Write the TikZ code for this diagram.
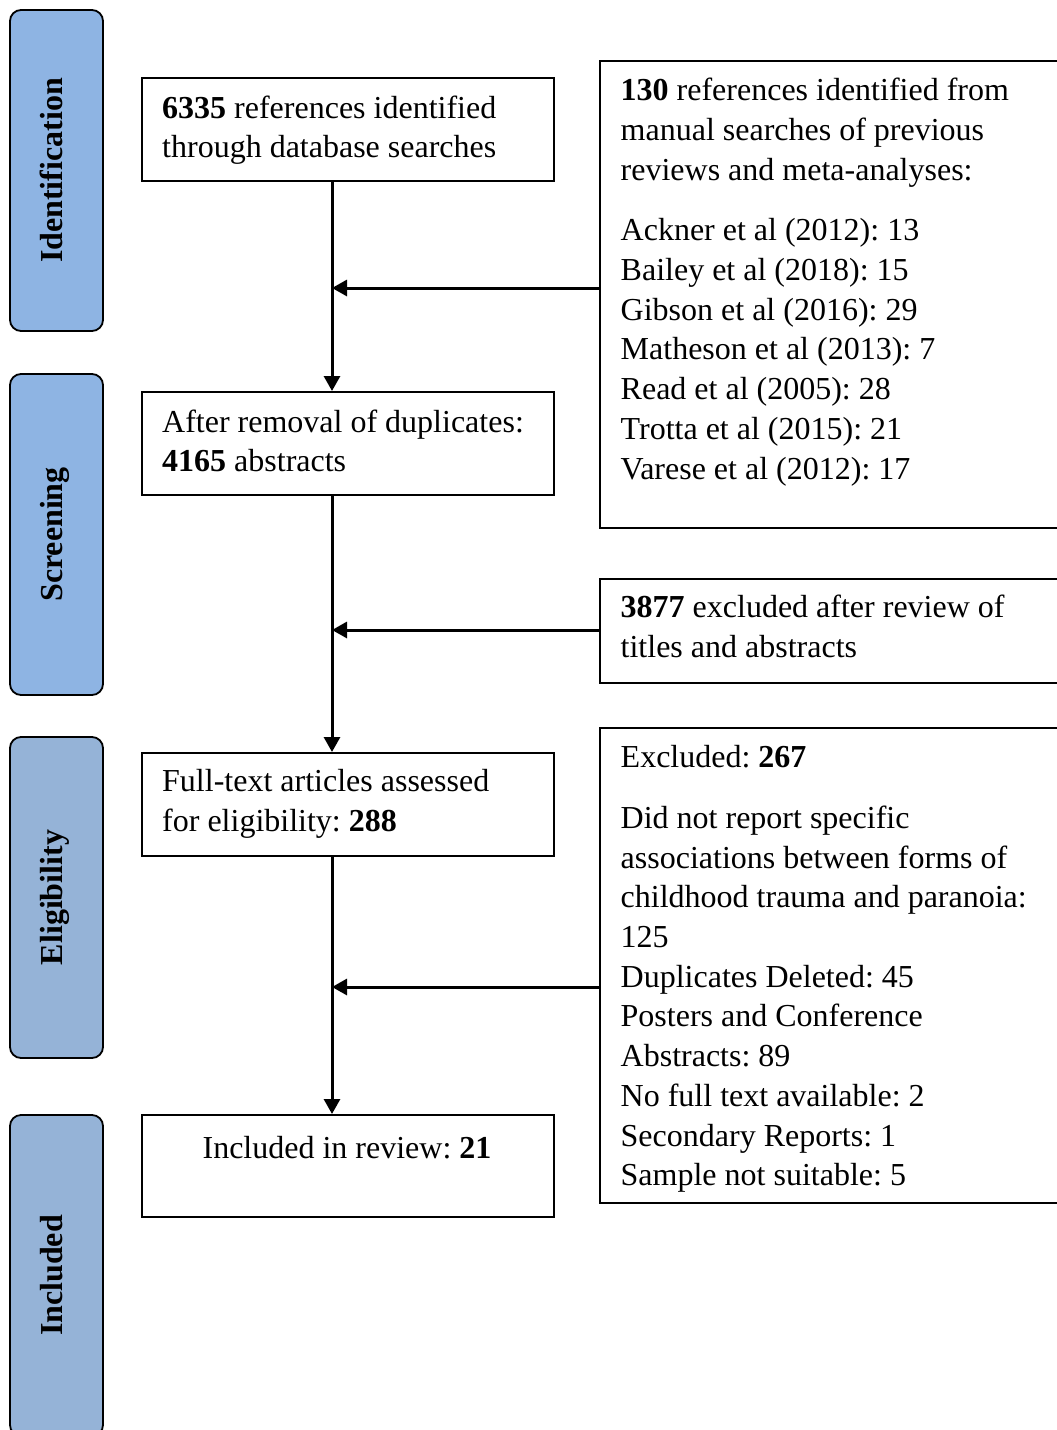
\documentclass[tikz,border=0pt]{standalone}
\usepackage{fontspec}
\setmainfont{Liberation Serif}
\usetikzlibrary{arrows.meta,calc}
\frenchspacing

\newcommand{\flowfont}{\fontsize{32}{39.7}\selectfont}
\definecolor{stageblue}{HTML}{8EB4E3}
\definecolor{stagegrey}{HTML}{95B3D7}

\tikzset{
	stage/.style={draw=black, line width=1.8pt, rounded corners=11pt, rotate=90,
		minimum width=321pt, minimum height=93pt, inner sep=0pt,
		font=\flowfont\bfseries, text height=21pt, text depth=9pt},
	flowbox/.style={draw=black, line width=1.8pt, anchor=north west, inner sep=0pt},
	flowtext/.style={anchor=north west, inner sep=0pt, align=left, font=\flowfont,
		execute at begin node={\rule{0pt}{25pt}}},
	flowline/.style={line width=3pt, -{Triangle[length=15pt,width=16pt]}}
}

\begin{document}
\begin{tikzpicture}[x=1pt,y=-1pt]
					\useasboundingbox (0,0) rectangle (1057,1430);
					%STAGES
					\node[stage, fill=stageblue] (ident) at (56.5,170.5) {Identification};
					\node[stage, fill=stageblue] (screen) at (56.5,534.5) {Screening};
					\node[stage, fill=stagegrey] (elig) at (56.5,897.5) {Eligibility};
					\node[stage, fill=stagegrey] (incl) at (56.5,1275.5) {Included};
					
					%MAIN BOXES
					\node[flowbox, minimum width=412pt, minimum height=103pt] (found) at (141,77) {};
					\node[flowbox, minimum width=412pt, minimum height=103pt] (dedup) at (141,391) {};
					\node[flowbox, minimum width=412pt, minimum height=103pt] (fulltext) at (141,752) {};
					\node[flowbox, minimum width=412pt, minimum height=102pt] (review) at (141,1114) {};
					
					\node[flowtext] (foundtext) at (162,95.5) {\textbf{6335} references identified\\through database searches};
					\node[flowtext] (deduptext) at (162,409.5) {After removal of duplicates:\\\textbf{4165} abstracts};
					\node[flowtext] (fulltexttext) at (162,769.5) {Full-text articles assessed\\for eligibility: \textbf{288}};
					\node[flowtext, anchor=north, align=center] (reviewtext) at (347,1133) {Included in review: \textbf{21}};
					
					%SIDE BOXES
					\node[flowbox, minimum width=466pt, minimum height=467pt] (manual) at (599,60) {};
					\node[flowbox, minimum width=466pt, minimum height=104pt] (titles) at (599,578) {};
					\node[flowbox, minimum width=466pt, minimum height=475pt] (excl) at (599,727) {};
					
					\node[flowtext] (manualtext) at (620.5,78) {\textbf{130} references identified from\\manual searches of previous\\reviews and meta-analyses:\\[21pt]
						Ackner et al (2012): 13\\Bailey et al (2018): 15\\Gibson et al (2016): 29\\Matheson et al (2013): 7\\Read et al (2005): 28\\Trotta et al (2015): 21\\Varese et al (2012): 17};
					\node[flowtext] (titlestext) at (620.5,595) {\textbf{3877} excluded after review of\\titles and abstracts};
					\node[flowtext] (excltext) at (620.5,745) {Excluded: \textbf{267}\\[21.3pt]
						Did not report specific\\associations between forms of\\childhood trauma and paranoia:\\125\\Duplicates Deleted: 45\\Posters and Conference\\Abstracts: 89\\No full text available: 2\\Secondary Reports: 1\\Sample not suitable: 5};
					
					%ARROWS
					\coordinate (trunk) at (332,0);
					\coordinate (j1) at (332,288);
					\coordinate (j2) at (332,630);
					\coordinate (j3) at (332,987);
					\draw[flowline] (found.south -| trunk) -- (dedup.north -| trunk);
					\draw[flowline] (dedup.south -| trunk) -- (fulltext.north -| trunk);
					\draw[flowline] (fulltext.south -| trunk) -- (review.north -| trunk);
					\draw[flowline] (manual.west |- j1) -- (j1);
					\draw[flowline] (titles.west |- j2) -- (j2);
					\draw[flowline] (excl.west |- j3) -- (j3);
					
				  \end{tikzpicture}
\end{document}
